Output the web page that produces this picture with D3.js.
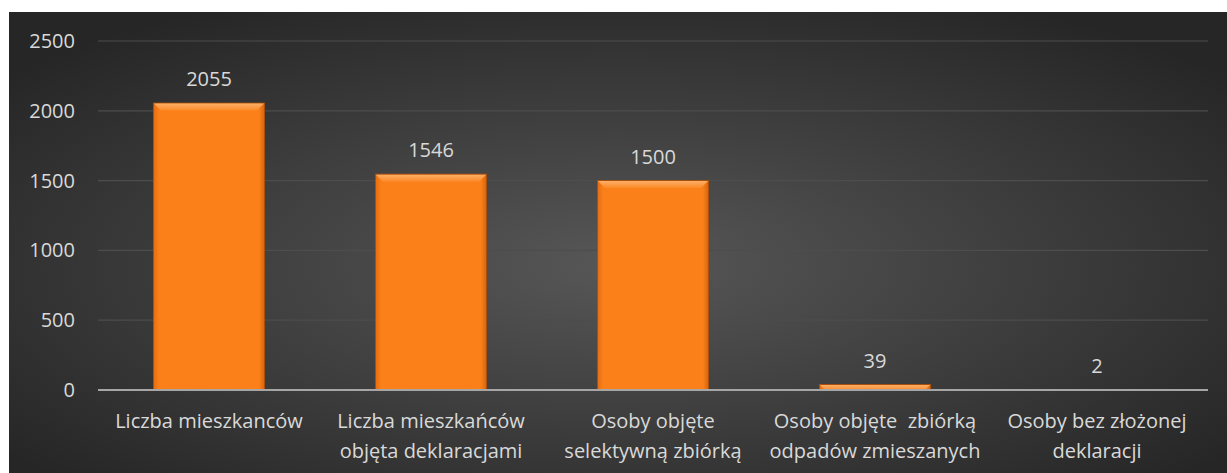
<!DOCTYPE html>
<html>
<head>
<meta charset="utf-8">
<script src="https://cdn.jsdelivr.net/npm/d3@7"></script>
<style>
  body { margin: 0; background: #fff; }
  svg { display: block; }
  text { font-family: "Open Sans", "DejaVu Sans", sans-serif; fill: #d9d9d9; }
</style>
</head>
<body>
<div id="chart"></div>
<script>
// dane wykresu
const categories = [
    ['Liczba mieszkanców'],
    ['Liczba mieszkańców', 'objęta deklaracjami'],
    ['Osoby objęte', 'selektywną zbiórką'],
    ['Osoby objęte  zbiórką', 'odpadów zmieszanych'],
    ['Osoby bez złożonej', 'deklaracji']
];
const values = [2055, 1546, 1500, 39, 2];
const yTicks = [0, 500, 1000, 1500, 2000, 2500];

const W = 1227, H = 473;
const margin = { top: 41, right: 19, bottom: 83, left: 98 };
const width = W - margin.left - margin.right;
const height = H - margin.top - margin.bottom;

const svg = d3.select('#chart').append('svg')
    .attr('width', W)
    .attr('height', H);

const defs = svg.append('defs');

// tło - gradient radialny
const bg = defs.append('radialGradient')
    .attr('id', 'bg')
    .attr('cx', '50%').attr('cy', '55%').attr('r', '65%');
bg.append('stop').attr('offset', '0%').attr('stop-color', '#575757');
bg.append('stop').attr('offset', '100%').attr('stop-color', '#262626');

svg.append('rect')
    .attr('x', 9).attr('y', 12)
    .attr('width', W - 9).attr('height', H - 12)
    .attr('fill', 'url(#bg)');

const g = svg.append('g')
    .attr('transform', `translate(${margin.left},${margin.top})`);

const x = d3.scaleBand()
    .domain(d3.range(values.length))
    .range([0, width])
    .paddingInner(0.5)
    .paddingOuter(0.25);

const y = d3.scaleLinear()
    .domain([0, 2500])
    .range([height, 0]);

// linie siatki
g.append('g')
    .selectAll('line')
    .data(yTicks.filter(d => d > 0))
    .join('line')
    .attr('x1', 0).attr('x2', width)
    .attr('y1', d => y(d)).attr('y2', d => y(d))
    .attr('stroke', '#4d4d4d')
    .attr('stroke-width', 1.2);

// oś Y
const yAxis = g.append('g')
    .call(d3.axisLeft(y).tickValues(yTicks).tickFormat(d3.format('d')).tickSize(0).tickPadding(23));
yAxis.select('.domain').remove();
yAxis.selectAll('text')
    .attr('font-size', 20)
    .style('font-family', '"Open Sans", sans-serif')
    .style('fill', '#d9d9d9');

// gradienty słupków
const barGrad = defs.append('linearGradient')
    .attr('id', 'barGrad').attr('x1', 0).attr('x2', 1).attr('y1', 0).attr('y2', 0);
barGrad.append('stop').attr('offset', '0%').attr('stop-color', '#e56d12');
barGrad.append('stop').attr('offset', '5%').attr('stop-color', '#fb8019');
barGrad.append('stop').attr('offset', '95%').attr('stop-color', '#fb8019');
barGrad.append('stop').attr('offset', '100%').attr('stop-color', '#d6640f');

const bevelGrad = defs.append('linearGradient')
    .attr('id', 'bevelGrad').attr('x1', 0).attr('x2', 0).attr('y1', 0).attr('y2', 1);
bevelGrad.append('stop').attr('offset', '0%').attr('stop-color', '#fdb06a');
bevelGrad.append('stop').attr('offset', '100%').attr('stop-color', '#fb8a28');

const bars = g.append('g')
    .selectAll('g')
    .data(values)
    .join('g')
    .attr('transform', (d, i) => `translate(${x(i)},0)`);

const bw = x.bandwidth();

bars.append('rect')
    .attr('x', 0)
    .attr('y', d => y(d))
    .attr('width', bw)
    .attr('height', d => height - y(d))
    .attr('fill', 'url(#barGrad)')
    .attr('stroke', '#a9500c')
    .attr('stroke-width', 1);

// fazowanie górnej krawędzi
bars.append('path')
    .attr('d', d => {
        const h = Math.min(7, height - y(d));
        const t = y(d) + 0.5;
        return `M0.5,${t} L${bw - 0.5},${t} L${bw - 0.5 - h},${t + h} L${0.5 + h},${t + h} Z`;
    })
    .attr('fill', 'url(#bevelGrad)')
    .attr('opacity', d => (height - y(d)) > 2 ? 0.95 : 0);

// oś X
g.append('line')
    .attr('x1', 0).attr('x2', width)
    .attr('y1', height).attr('y2', height)
    .attr('stroke', '#a6a6a6')
    .attr('stroke-width', 2);

// etykiety wartości
bars.append('text')
    .attr('x', bw / 2)
    .attr('y', d => y(d) - 17)
    .attr('text-anchor', 'middle')
    .attr('font-size', 20)
    .text(d => d);

// etykiety kategorii
const catLabels = g.append('g')
    .selectAll('text')
    .data(categories)
    .join('text')
    .attr('x', (d, i) => x(i) + bw / 2)
    .attr('y', height + 38)
    .attr('text-anchor', 'middle')
    .attr('font-size', 20);

catLabels.selectAll('tspan')
    .data(d => d)
    .join('tspan')
    .attr('x', function() { return d3.select(this.parentNode).attr('x'); })
    .attr('dy', (d, i) => i === 0 ? 0 : 30)
    .style('white-space', 'pre')
    .text(d => d);
</script>
</body>
</html>
